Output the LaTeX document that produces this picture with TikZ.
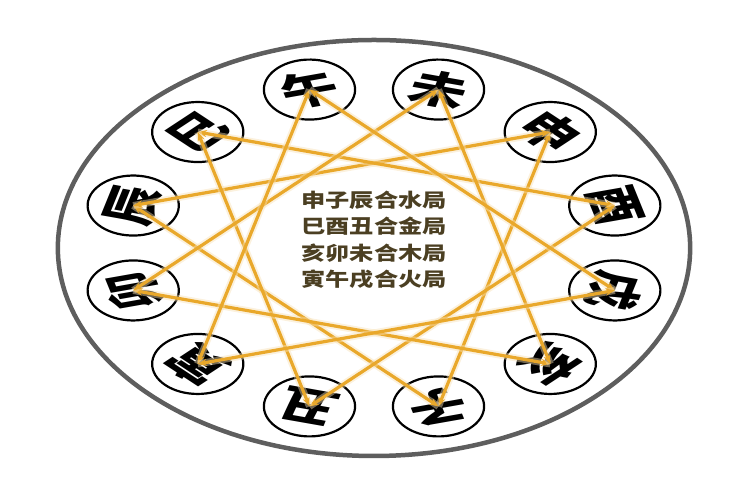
\documentclass[tikz,border=0pt]{standalone}
\usepackage{fontspec}
\newfontfamily\cjk{Noto Sans CJK SC}
\usetikzlibrary{arrows.meta}

\definecolor{gold}{HTML}{E9A82B}
\definecolor{ink}{HTML}{4B3F22}
\definecolor{ring}{HTML}{5E5E5E}

\begin{document}
\begin{tikzpicture}[x=1bp, y=1bp,
  branch/.style={circle, draw=black, line width=2.2bp, minimum size=60bp, inner sep=0pt,
    font=\cjk\bfseries\fontsize{38}{38}\selectfont, transform shape},
  trine/.style={draw=gold, line width=3.2bp, line cap=round,
    {Stealth[length=9bp,width=7bp]}-{Stealth[length=9bp,width=7bp]},
    preaction={draw=gold!35, line width=7bp, opacity=0.45, -}}]

\useasboundingbox (0,0) rectangle (750,500);

\begin{scope}[shift={(374,252)}, xscale=1.52]

% Outer ring
\draw[ring, line width=4.5bp] (0,0) circle (208);

% Twelve branches
\foreach \ang/\nm/\ch in {105/wu/午, 75/wei/未, 45/shen/申, 15/you/酉, -15/xu/戌, -45/hai/亥,
    -75/zi/子, -105/chou/丑, -135/yin/寅, 195/mao/卯, 165/chen/辰, 135/si/巳}
  \node[branch, rotate=\ang-90] (\nm) at (\ang:164) {\ch};

% Water
\draw[trine] (shen.center) -- (zi.center);
\draw[trine] (zi.center) -- (chen.center);
\draw[trine] (chen.center) -- (shen.center);
% Metal
\draw[trine] (si.center) -- (you.center);
\draw[trine] (you.center) -- (chou.center);
\draw[trine] (chou.center) -- (si.center);
% Wood
\draw[trine] (hai.center) -- (mao.center);
\draw[trine] (mao.center) -- (wei.center);
\draw[trine] (wei.center) -- (hai.center);
% Fire
\draw[trine] (yin.center) -- (wu.center);
\draw[trine] (wu.center) -- (xu.center);
\draw[trine] (xu.center) -- (yin.center);

% Centre
\node[font=\cjk\bfseries\fontsize{16}{22}\selectfont, text=ink, align=center,
  transform shape, yscale=1.2] (heju) at (0,8) {申子辰合水局\\巳酉丑合金局\\亥卯未合木局\\寅午戌合火局};

\end{scope}

\end{tikzpicture}
\end{document}
